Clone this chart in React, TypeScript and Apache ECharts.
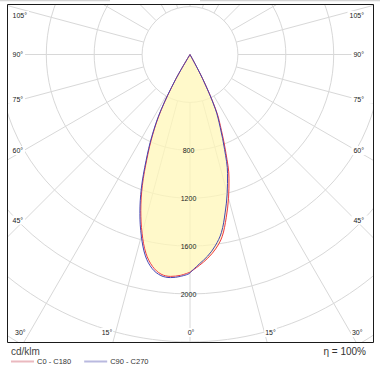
import React, { useEffect, useRef } from "react";
import * as echarts from "echarts";

// ---- data (cd/klm) ----
const ANGLES = [0, 2.5, 5, 7.5, 10, 12.5, 15, 17.5, 20, 22.5, 25, 27.5, 30, 32.5];
const C0_C180_LEFT = [1818, 1846, 1860, 1850, 1798, 1700, 1546, 1366, 1163, 937, 735, 518, 232, 0];
const C0_C180_RIGHT = [1820, 1764, 1707, 1638, 1545, 1397, 1243, 1083, 879, 686, 519, 238, 0, 0];
const C90_C270_LEFT = [1822, 1855, 1870, 1862, 1816, 1722, 1570, 1391, 1187, 958, 753, 534, 244, 0];
const C90_C270_RIGHT = [1818, 1752, 1690, 1612, 1510, 1355, 1200, 1043, 845, 660, 498, 225, 0, 0];

const SERIES_NAMES = ["C0 - C180", "C90 - C270"];
const RADIAL_TICKS = [800, 1200, 1600, 2000];
const SIDE_ANGLE_TICKS = ["105°", "90°", "75°", "60°", "45°"];
const BOTTOM_ANGLE_TICKS = ["30°", "15°", "0°", "15°", "30°"];
const UNIT_LABEL = "cd/klm";
const EFFICIENCY_LABEL = "η = 100%";

// ---- layout ----
const FONT = "'Liberation Sans', Arial, Helvetica, sans-serif";
const CENTER = [190, 54.5];
const R_OUT = 383.2;
const R_IN = R_OUT / 8;
const SIDE_Y = [15.5, 54.5, 99, 150.5, 220];
const BOTTOM_Y = 332.5;
const BOTTOM_X = [14, 107, 191, 270.5, 363.5];

function buildCurve(left: number[], right: number[]) {
  const l = ANGLES.map((a, i) => [left[i], a]).reverse();
  const r = ANGLES.map((a, i) => [right[i], 360 - a]);
  const all = [...l, ...r];
  // drop repeated origin points so smoothing stays clean
  return all.filter((p, i) => !(p[0] === 0 && ((i > 0 && all[i - 1][0] === 0) || (i < all.length - 1 && all[i + 1][0] === 0 && i !== 0 && false))));
}

export default function App() {
  const ref = useRef<HTMLDivElement>(null);
  useEffect(() => {
    if (!ref.current) return;
    const chart = echarts.init(ref.current, undefined, { renderer: "svg" });

    const texts: any[] = [];
    SIDE_ANGLE_TICKS.forEach((t, i) => {
      texts.push({
        type: "text", x: 7.5, y: SIDE_Y[i], z: 6,
        style: {
          text: t, fontSize: 7, fontFamily: FONT, fill: "#222",
          align: "left", verticalAlign: "middle",
          backgroundColor: "#fff", padding: [1, 2, 1, 5],
        },
      });
      texts.push({
        type: "text", x: 373, y: SIDE_Y[i], z: 6,
        style: {
          text: t, fontSize: 7, fontFamily: FONT, fill: "#222",
          align: "right", verticalAlign: "middle",
          backgroundColor: "#fff", padding: [1, 9, 1, 2],
        },
      });
    });
    BOTTOM_ANGLE_TICKS.forEach((t, i) => {
      const align = i === 0 ? "left" : i === BOTTOM_ANGLE_TICKS.length - 1 ? "right" : "center";
      texts.push({
        type: "text", x: BOTTOM_X[i], y: BOTTOM_Y, z: 6,
        style: {
          text: t, fontSize: 7, fontFamily: FONT, fill: "#222",
          align, verticalAlign: "middle",
          backgroundColor: "#fff", padding: [1, 1, 1, 1],
        },
      });
    });

    const legendColors = ["#eab9bf", "#b9b9df"];

    const option: any = {
      animation: false,
      backgroundColor: "#fff",
      polar: [
        { center: CENTER, radius: [R_IN, R_OUT] },
        { center: CENTER, radius: [0, R_OUT] },
      ],
      angleAxis: [
        {
          polarIndex: 0, type: "value", min: 0, max: 360, interval: 15, startAngle: 270,
          axisLine: { show: false }, axisTick: { show: false }, axisLabel: { show: false },
          splitLine: { show: true, lineStyle: { color: "#d8d8d8", width: 1 } },
        },
        {
          polarIndex: 1, type: "value", min: 0, max: 360, startAngle: 270,
          axisLine: { show: false }, axisTick: { show: false }, axisLabel: { show: false },
          splitLine: { show: false },
        },
      ],
      radiusAxis: [
        {
          polarIndex: 0, type: "value", min: 400, max: 3200, interval: 400,
          axisLine: { show: false }, axisTick: { show: false }, axisLabel: { show: false },
          splitLine: { show: true, lineStyle: { color: "#d8d8d8", width: 1 } },
        },
        {
          polarIndex: 1, type: "value", min: 0, max: 3200, interval: 400, z: 5,
          axisLine: { show: false }, axisTick: { show: false }, splitLine: { show: false },
          axisLabel: {
            show: true, margin: 0, align: "center", verticalAlign: "middle",
            fontSize: 7, fontFamily: FONT, color: "#222", padding: [0, 3, 0, 0],
            formatter: (v: number) => (RADIAL_TICKS.indexOf(v) >= 0 ? String(v) : ""),
          },
        },
      ],
      legend: {
        left: 11, top: 357.5, icon: "rect", itemWidth: 23, itemHeight: 2, itemGap: 13,
        selectedMode: false, padding: 0,
        textStyle: { fontSize: 7.5, fontFamily: FONT, color: "#333", padding: [0, 0, 0, -2] },
        data: SERIES_NAMES.map((n, i) => ({
          name: n,
          icon: "rect",
          itemStyle: { color: legendColors[i], borderWidth: 0 },
          lineStyle: { color: legendColors[i], width: 0 },
        })),
      },
      series: [
        {
          name: SERIES_NAMES[0], type: "line", coordinateSystem: "polar", polarIndex: 1,
          data: buildCurve(C0_C180_LEFT, C0_C180_RIGHT), symbol: "none", z: 2, smooth: 0.35,
          lineStyle: { color: "#ee3b45", width: 1 },
          itemStyle: { color: "#ee3b45" },
          areaStyle: { color: "#fff7b8", opacity: 0.75 },
        },
        {
          name: SERIES_NAMES[1], type: "line", coordinateSystem: "polar", polarIndex: 1,
          data: buildCurve(C90_C270_LEFT, C90_C270_RIGHT), symbol: "none", z: 3, smooth: 0.35,
          lineStyle: { color: "#4545b0", width: 1 },
          itemStyle: { color: "#4545b0" },
        },
      ],
      graphic: [
        { type: "rect", z: 3, shape: { x: 0, y: 0, width: 380, height: 4 }, style: { fill: "#fff" }, silent: true },
        { type: "rect", z: 3, shape: { x: 0, y: 0, width: 7, height: 374 }, style: { fill: "#fff" }, silent: true },
        { type: "rect", z: 3, shape: { x: 374, y: 0, width: 6, height: 374 }, style: { fill: "#fff" }, silent: true },
        { type: "rect", z: 3, shape: { x: 0, y: 343, width: 380, height: 31 }, style: { fill: "#fff" }, silent: true },
        { type: "rect", z: 4, shape: { x: 0, y: 0, width: 110, height: 1.3 }, style: { fill: "#d4d4d4" }, silent: true },
        { type: "rect", z: 4, shape: { x: 200, y: 0, width: 180, height: 1.3 }, style: { fill: "#d4d4d4" }, silent: true },
        {
          type: "rect", z: 10, silent: true,
          shape: { x: 7.5, y: 4.5, width: 366, height: 338 },
          style: { fill: "none", stroke: "#1a1a1a", lineWidth: 1 },
        },
        ...texts,
        {
          type: "text", x: 11, y: 351.5, z: 10,
          style: { text: UNIT_LABEL, fontSize: 10, fontFamily: FONT, fill: "#444", align: "left", verticalAlign: "middle" },
        },
        {
          type: "text", x: 366, y: 351.5, z: 10,
          style: { text: EFFICIENCY_LABEL, fontSize: 10, fontFamily: FONT, fill: "#333", align: "right", verticalAlign: "middle" },
        },
      ],
    };
    chart.setOption(option);
    return () => chart.dispose();
  }, []);
  return (
    <div
      ref={ref}
      style={{ position: "absolute", left: 0, top: 0, width: 380, height: 374 }}
    />
  );
}
